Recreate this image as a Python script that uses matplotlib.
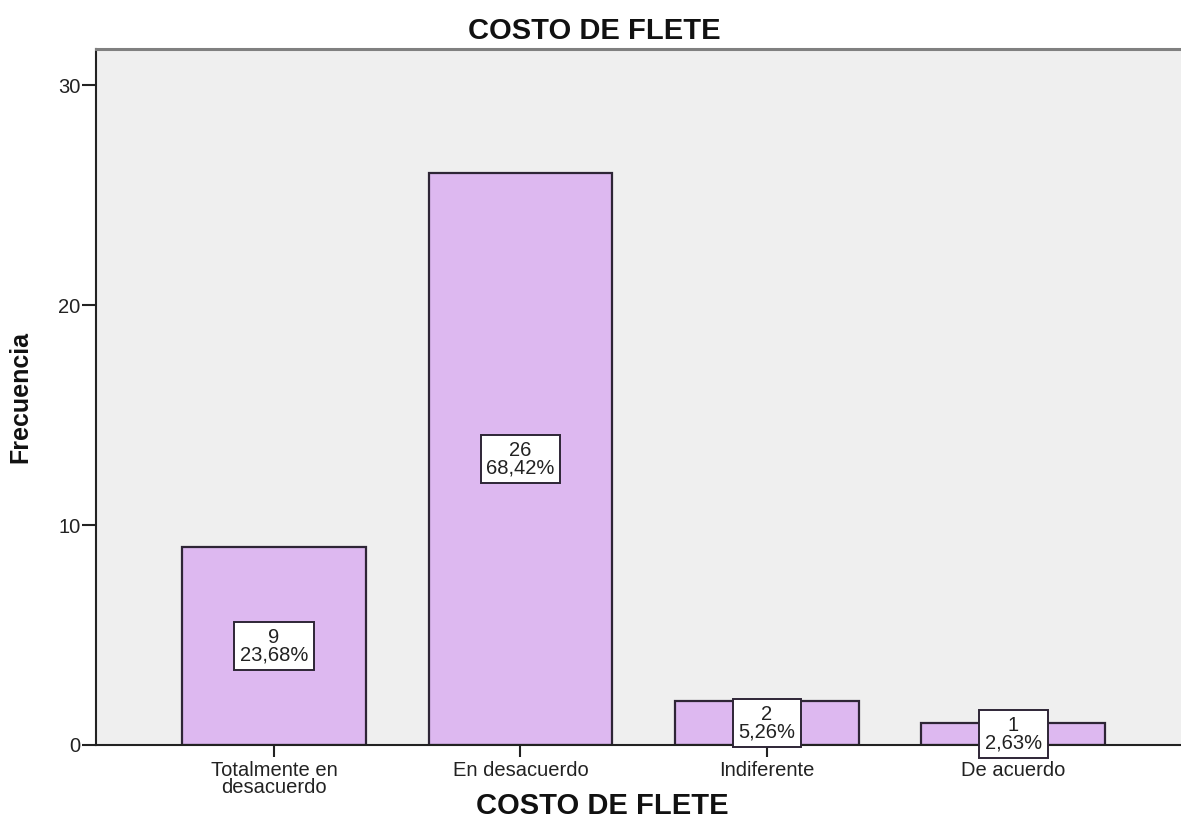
import numpy as np
import matplotlib
matplotlib.use('Agg')
import matplotlib.pyplot as plt

categories = ['Totalmente en\ndesacuerdo', 'En desacuerdo', 'Indiferente', 'De acuerdo']
counts = [9, 26, 2, 1]
percents = ['23,68%', '68,42%', '5,26%', '2,63%']
yticks = [0, 10, 20, 30]

plt.rcParams['font.family'] = ['Liberation Sans', 'DejaVu Sans']

fig = plt.figure(figsize=(11.81, 8.40), dpi=100)
ax = fig.add_axes([96 / 1181, 95 / 840, 1 - 96 / 1181, 696 / 840])
ax.set_facecolor('#efefef')

x = np.arange(len(categories))
ax.bar(x, counts, width=0.746, color='#ddb8f0', edgecolor='#2e2536', linewidth=1.6, zorder=2)

# count / percent boxes sit at mid-height of each bar
for xi, c, p in zip(x, counts, percents):
    ax.text(xi, c / 2, f'{c}\n{p}', ha='center', va='center', fontsize=14.5,
            linespacing=0.92, color='#222222', zorder=4, clip_on=False,
            bbox=dict(boxstyle='square,pad=0.28', facecolor='white',
                      edgecolor='#2e2536', linewidth=1.4))

ax.set_xlim(-0.722, 3.68)
ax.set_ylim(0, 31.64)
ax.set_xticks(x)
ax.set_xticklabels(categories, fontsize=14.5, linespacing=0.88)
ax.set_yticks(yticks)
ax.tick_params(axis='y', labelsize=14.5, length=10, width=1.5, pad=1, colors='#222222')
ax.tick_params(axis='x', length=8.5, width=1.5, pad=3, colors='#222222')

ax.spines['right'].set_visible(False)
ax.spines['top'].set_color('#808080')
ax.spines['top'].set_linewidth(2.2)
for s in ('left', 'bottom'):
    ax.spines[s].set_color('#222222')
    ax.spines[s].set_linewidth(1.5)

fig.text(594 / 1181, 1 - 31 / 840, 'COSTO DE FLETE', ha='center', va='center',
         fontsize=21, fontweight='bold', color='#111111')
fig.text(602 / 1181, 1 - 806 / 840, 'COSTO DE FLETE', ha='center', va='center',
         fontsize=21, fontweight='bold', color='#111111')
fig.text(20 / 1181, 1 - 397 / 840, 'Frecuencia', ha='center', va='center',
         rotation=90, fontsize=18, fontweight='bold', color='#111111')

fig.savefig('out.png', dpi=100, facecolor='white')
